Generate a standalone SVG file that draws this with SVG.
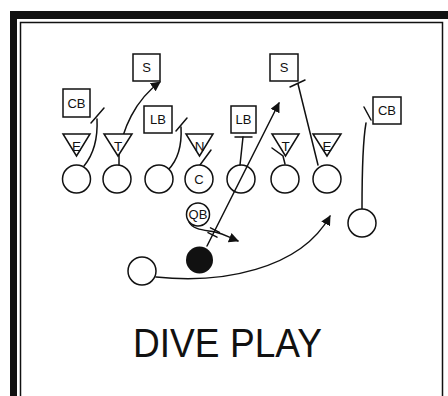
<svg xmlns="http://www.w3.org/2000/svg" width="448" height="396" viewBox="0 0 448 396">
<style>
  .shape { fill: #fff; stroke: #111; stroke-width: 1.5; }
  .line { fill: none; stroke: #111; stroke-width: 1.5; stroke-linecap: round; }
  .lbl { font-family: "Liberation Sans", Arial, sans-serif; font-size: 13px; fill: #111; text-anchor: middle; }
  .tri { font-family: "Liberation Sans", Arial, sans-serif; font-size: 13.5px; fill: #111; text-anchor: middle; }
  .title { font-family: "Liberation Sans", Arial, sans-serif; font-size: 41px; fill: #111; text-anchor: middle; }
</style>
<defs>
  <marker id="arr" viewBox="0 0 10 10" refX="9" refY="5" markerWidth="10" markerHeight="10" markerUnits="userSpaceOnUse" orient="auto">
    <path d="M0,0 L10,5 L0,10 Z" fill="#111"/>
  </marker>
</defs>
<rect x="0" y="0" width="448" height="396" fill="#fff"/>
<g id="frame">
  <rect x="10" y="11" width="7" height="390" fill="#111"/>
  <rect x="10" y="11" width="440" height="8" fill="#111"/>
  <path d="M20.5,400 V22.5 H442.5 V400" fill="none" stroke="#111" stroke-width="1.5"/>
</g>
<g id="connectors">
  <path class="line" d="M84,166 C93,155 98,140 97,119"/>
  <path class="line" d="M91,123 L104,108"/>
  <path class="line" d="M119,165 L119,155 C122,130 135,100 160,82" marker-end="url(#arr)"/>
  <path class="line" d="M168,170 C178,160 182,145 181,127"/>
  <path class="line" d="M176,131 L187,118"/>
  <path class="line" d="M200,165 L211,150"/>
  <path class="line" d="M243,137 L240,165"/>
  <path class="line" d="M235,137 L252,137"/>
  <path class="line" d="M207,246 L279,103" marker-end="url(#arr)"/>
  <path class="line" d="M208,232.6 L217,237.2"/>
  <path class="line" d="M210.5,227.8 L219.5,232.4"/>
  <path class="line" d="M285,164 L283,156 L272,148"/>
  <path class="line" d="M318,165 L298,84"/>
  <path class="line" d="M290,87 L305,80"/>
  <path class="line" d="M362,209 C362,170 363,140 366,123"/>
  <path class="line" d="M364,107 L371,120"/>
  <path class="line" d="M189,222 C193,230 205,230 215,232 S228,237 238,241" marker-end="url(#arr)"/>
  <path class="line" d="M156,277 C220,284 300,270 330,216" marker-end="url(#arr)"/>
</g>
<g id="cb-left"><rect class="shape" x="63" y="89" width="27" height="28"/><text class="lbl" x="76.5" y="108">CB</text></g>
<g id="s-left"><rect class="shape" x="133" y="54" width="27" height="27"/><text class="lbl" x="146.5" y="72">S</text></g>
<g id="lb-left"><rect class="shape" x="144" y="106" width="28" height="27"/><text class="lbl" x="158" y="124">LB</text></g>
<g id="s-right"><rect class="shape" x="270" y="54" width="28" height="27"/><text class="lbl" x="284" y="72">S</text></g>
<g id="lb-right"><rect class="shape" x="231" y="106" width="25" height="27"/><text class="lbl" x="243.5" y="124">LB</text></g>
<g id="cb-right"><rect class="shape" x="373" y="97" width="28" height="27"/><text class="lbl" x="387" y="115">CB</text></g>
<g id="e-left"><path class="shape" d="M63,134 H90 L76.5,156 Z"/><text class="tri" x="76.5" y="151">E</text></g>
<g id="t-left"><path class="shape" d="M104,134 H132 L118,156 Z"/><text class="tri" x="118" y="151">T</text></g>
<g id="n"><path class="shape" d="M186,134 H213 L199.5,156 Z"/><text class="tri" x="199.5" y="151">N</text></g>
<g id="t-right"><path class="shape" d="M272,134 H299 L285.5,156 Z"/><text class="tri" x="285.5" y="151">T</text></g>
<g id="e-right"><path class="shape" d="M313,134 H341 L327,156 Z"/><text class="tri" x="327" y="151">E</text></g>
<g id="o1"><circle class="shape" cx="76.5" cy="179" r="14"/></g>
<g id="o2"><circle class="shape" cx="117" cy="179" r="14"/></g>
<g id="o3"><circle class="shape" cx="159" cy="179" r="14"/></g>
<g id="center"><circle class="shape" cx="199" cy="179" r="14"/><text class="lbl" x="199" y="183.5">C</text></g>
<g id="o5"><circle class="shape" cx="241" cy="179" r="14" style="fill:none"/></g>
<g id="o6"><circle class="shape" cx="285" cy="179" r="14"/></g>
<g id="o7"><circle class="shape" cx="327" cy="179" r="14"/></g>
<g id="wide"><circle class="shape" cx="362" cy="223" r="14"/></g>
<g id="qb"><circle class="shape" cx="198" cy="214.5" r="11.5"/><text class="lbl" x="198" y="219">QB</text></g>
<g id="ballcarrier"><circle cx="199.5" cy="260" r="13.5" fill="#111"/></g>
<g id="back"><circle class="shape" cx="142" cy="271" r="14"/></g>
<text class="title" x="227.5" y="357" textLength="189" lengthAdjust="spacingAndGlyphs">DIVE PLAY</text>
</svg>
